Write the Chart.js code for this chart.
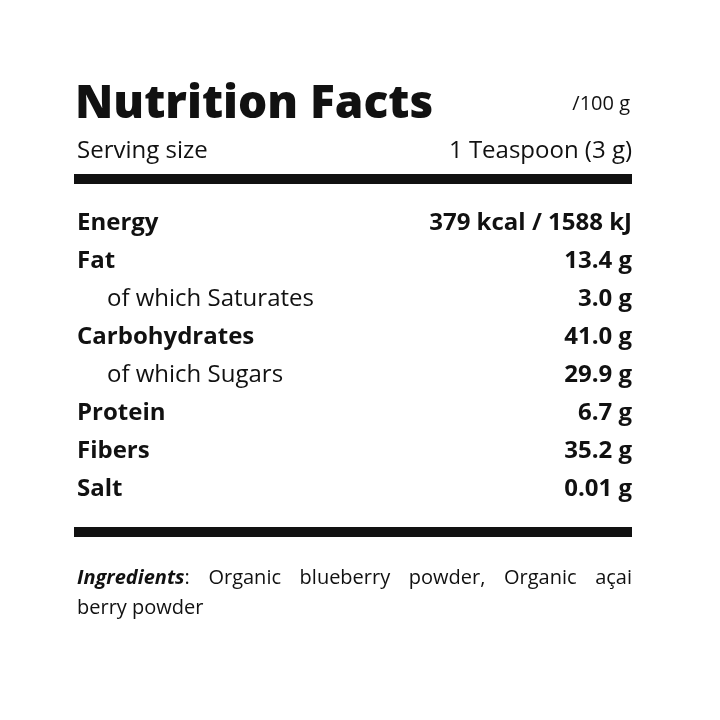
<!DOCTYPE html>
<html><head><meta charset="utf-8">
<script src="https://cdn.jsdelivr.net/npm/chart.js@4"></script>
<style>html,body{margin:0;padding:0;background:#fff}canvas{display:block}</style>
</head><body>
<canvas id="c" width="720" height="720"></canvas>
<script>
const title = "Nutrition Facts";
const perLabel = "/100 g";
const servingLabel = "Serving size";
const servingValue = "1 Teaspoon (3 g)";
const rowLabels = ["Energy","Fat","of which Saturates","Carbohydrates","of which Sugars","Protein","Fibers","Salt"];
const rowValues = ["379 kcal / 1588 kJ","13.4 g","3.0 g","41.0 g","29.9 g","6.7 g","35.2 g","0.01 g"];
const rowSub = [false,false,true,false,true,false,false,false];
const ingredientsHead = "Ingredients";
const ingredientsLine1 = ": Organic blueberry powder, Organic açai";
const ingredientsLine2 = "berry powder";

const F = '"Open Sans", sans-serif';
const labelPlugin = {
  id: 'labels',
  afterDraw(chart) {
    const ctx = chart.ctx, y = chart.scales.y, x = chart.scales.x;
    const L = x.getPixelForValue(0), R = x.getPixelForValue(1);
    ctx.save();
    ctx.fillStyle = '#111';
    ctx.textBaseline = 'alphabetic';
    ctx.font = '800 46px ' + F; ctx.textAlign = 'left';
    ctx.fillText(title, L - 2, 118);
    ctx.font = '400 20px ' + F; ctx.textAlign = 'right';
    ctx.fillText(perLabel, R - 2, 110);
    ctx.font = '400 24px ' + F;
    ctx.textAlign = 'left'; ctx.fillText(servingLabel, L, 158);
    ctx.textAlign = 'right'; ctx.fillText(servingValue, R, 158);
    ctx.fillRect(L - 3, 174, R - L + 3, 10);
    ctx.fillRect(L - 3, 527, R - L + 3, 10);
    ctx.textBaseline = 'middle';
    rowLabels.forEach((lab, i) => {
      const py = y.getPixelForValue(i);
      ctx.textAlign = 'left';
      ctx.font = (rowSub[i] ? '400 ' : '700 ') + '24px ' + F;
      ctx.fillText(lab, rowSub[i] ? L + 30 : L, py);
      ctx.textAlign = 'right'; ctx.font = '700 24px ' + F;
      ctx.fillText(rowValues[i], R, py);
    });
    // ingredients, justified first line
    ctx.textBaseline = 'alphabetic'; ctx.textAlign = 'left';
    ctx.font = 'italic 700 20px ' + F;
    const hw = ctx.measureText(ingredientsHead).width;
    ctx.fillText(ingredientsHead, L, 584);
    ctx.font = '400 20px ' + F;
    const words = ingredientsLine1.split(' ');
    const tw = words.reduce((s, w) => s + ctx.measureText(w).width, 0);
    const gap = (R - L - hw - tw) / (words.length - 1);
    let cx = L + hw;
    words.forEach(w => { ctx.fillText(w, cx, 584); cx += ctx.measureText(w).width + gap; });
    ctx.fillText(ingredientsLine2, L, 614);
    ctx.restore();
  }
};
new Chart(document.getElementById('c'), {
  type: 'scatter',
  data: { labels: rowLabels, datasets: [{ data: [] }] },
  options: {
    responsive: false, animation: false,
    layout: { padding: { top: 223, bottom: 231, left: 77, right: 88 } },
    plugins: { legend: { display: false }, tooltip: { enabled: false } },
    scales: {
      x: { type: 'linear', min: 0, max: 1, display: false },
      y: { type: 'linear', min: 0, max: rowLabels.length - 1, reverse: true, display: false }
    }
  },
  plugins: [labelPlugin]
});
</script>
</body></html>
